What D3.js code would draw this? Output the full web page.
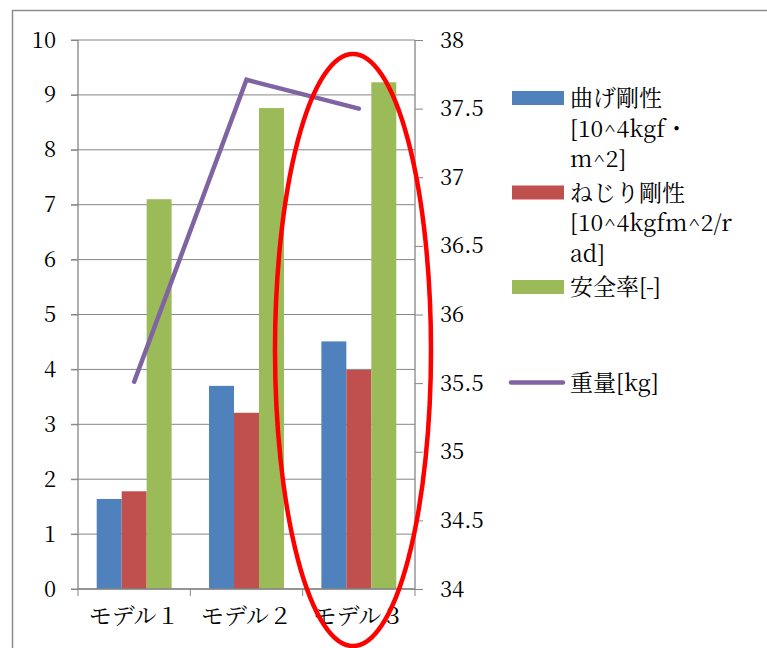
<!DOCTYPE html>
<html><head><meta charset="utf-8">
<script src="https://cdn.jsdelivr.net/npm/d3@7"></script>
<style>body{margin:0;background:#fff}svg{display:block}</style>
</head><body>
<svg id="c" width="767" height="648"></svg>
<script>
const categories = ["モデル１", "モデル２", "モデル３"];
const bending = [1.64, 3.70, 4.51];
const torsion = [1.78, 3.21, 3.99];
const safety = [7.10, 8.76, 9.23];
const weight = [35.51, 37.71, 37.50];
const leftTicks = [0,1,2,3,4,5,6,7,8,9,10];
const rightTicks = [34,34.5,35,35.5,36,36.5,37,37.5,38];
const barSeries = [
  {name:["曲げ剛性","[10^4kgf・","m^2]"], values:bending, color:"#4F81BD"},
  {name:["ねじり剛性","[10^4kgfm^2/r","ad]"], values:torsion, color:"#C0504D"},
  {name:["安全率[-]"], values:safety, color:"#9BBB59"}
];
const lineSeries = {name:"重量[kg]", values:weight, color:"#8064A2"};

const svg = d3.select("#c");
const FONT = '"Noto Serif CJK JP"';
const L=78, R=415, T=40, B=589;
const axisColor = "#868686";

svg.append("rect").attr("x",12.5).attr("y",10.5).attr("width",800).attr("height",700)
  .attr("fill","none").attr("stroke","#8c8c8c").attr("stroke-width",1.5);

const x = d3.scaleBand().domain(categories).range([L,R]).paddingInner(0.333).paddingOuter(0.1665);
const x0 = d3.scaleBand().domain(categories).range([L,R]);
const y = d3.scaleLinear().domain([0,10]).range([B,T]);
const y2 = d3.scaleLinear().domain([34,38]).range([B,T]);
const xs = d3.scaleBand().domain(d3.range(barSeries.length)).range([0,x.bandwidth()]);

svg.append("g").selectAll("line").data(leftTicks).join("line")
  .attr("x1",L-7).attr("x2",R).attr("y1",d=>y(d)).attr("y2",d=>y(d))
  .attr("stroke",axisColor).attr("stroke-width",1);

barSeries.forEach((s,i)=>{
  svg.append("g").selectAll("rect").data(s.values).join("rect")
    .attr("x",(d,j)=>x(categories[j])+xs(i)).attr("width",xs.bandwidth())
    .attr("y",d=>y(d)).attr("height",d=>B-y(d)).attr("fill",s.color);
});

const ax = d3.axisLeft(y).tickValues(leftTicks).tickSize(7).tickFormat(d3.format("d"));
const gL = svg.append("g").attr("transform",`translate(${L},0)`).call(ax);
const ax2 = d3.axisRight(y2).tickValues(rightTicks).tickSize(8).tickFormat(d=>String(d));
const gR = svg.append("g").attr("transform",`translate(${R},0)`).call(ax2);
const axb = d3.axisBottom(x0).tickSize(7).tickFormat(d=>d);
const gB = svg.append("g").attr("transform",`translate(0,${B})`).call(axb);
gB.selectAll(".tick line").remove();
gB.append("g").selectAll("line").data(d3.range(categories.length+1)).join("line")
  .attr("x1",i=>L+i*x0.step()).attr("x2",i=>L+i*x0.step()).attr("y1",0).attr("y2",7)
  .attr("stroke",axisColor);
[gL,gR,gB].forEach(g=>{
  g.attr("font-family",FONT).attr("font-size",22);
  g.select(".domain").attr("stroke",axisColor).attr("stroke-width",1.3);
  g.selectAll(".tick line").attr("stroke",axisColor);
  g.selectAll("text").attr("font-family",FONT).attr("font-size",22).attr("fill","#000");
});
gL.select(".domain").attr("d",`M0,${B}V${T}`);
gR.select(".domain").attr("d",`M0,${B}V${T}`);
gB.select(".domain").attr("d",`M${L},0H${R}`);
gL.selectAll("text").attr("x",-22);
gR.selectAll("text").attr("x",25);
gB.selectAll("text").attr("y",19).attr("font-size",23);

svg.append("path").datum(lineSeries.values)
  .attr("d",d3.line().x((d,j)=>x0(categories[j])+x0.bandwidth()/2).y(d=>y2(d)))
  .attr("fill","none").attr("stroke",lineSeries.color).attr("stroke-width",4.5).attr("stroke-linecap","round");

svg.append("ellipse").attr("cx",353).attr("cy",350).attr("rx",78).attr("ry",296)
  .attr("fill","none").attr("stroke","#ff0000").attr("stroke-width",4.5);

const lg = svg.append("g");
const lineH = 30.5;
const swY = [98, 192.5, 287];
barSeries.forEach((s,i)=>{
  lg.append("rect").attr("x",512).attr("y",swY[i]-7).attr("width",52).attr("height",14).attr("fill",s.color);
  s.name.forEach((t,k)=>{
    lg.append("text").attr("x",570).attr("y",swY[i]+k*lineH).attr("dy","0.35em")
      .attr("font-family",FONT).attr("font-size",23).text(t);
  });
});
lg.append("line").attr("x1",511).attr("x2",563).attr("y1",382.5).attr("y2",382.5)
  .attr("stroke",lineSeries.color).attr("stroke-width",4.5).attr("stroke-linecap","round");
lg.append("text").attr("x",570).attr("y",382.5).attr("dy","0.35em")
  .attr("font-family",FONT).attr("font-size",23).text(lineSeries.name);
</script>
</body></html>
